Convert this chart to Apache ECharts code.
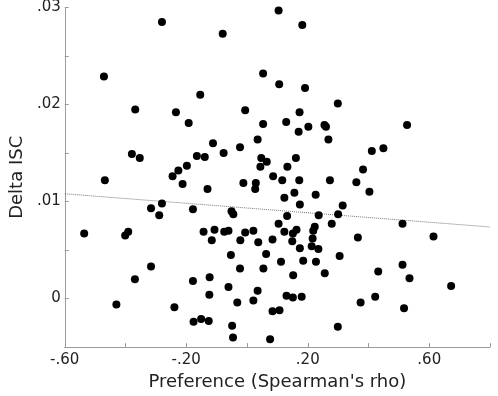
<!DOCTYPE html>
<html>
<head>
<meta charset="utf-8">
<script src="https://cdn.jsdelivr.net/npm/echarts@6/dist/echarts.min.js"></script>
<style>
  html, body { margin: 0; padding: 0; background: #fff; }
  #chart { width: 498px; height: 396px; }
</style>
</head>
<body>
<div id="chart"></div>
<script>
// preference (Spearman's rho) per subject
const prefRho = [
  -0.280, -0.471, -0.368, -0.379, -0.353, -0.468, -0.080, 0.053, -0.154, -0.234,
  -0.192, -0.006, 0.053, -0.112, 0.035, -0.077, -0.023, -0.165, -0.139, 0.047,
  0.065, 0.044, -0.198, -0.226, -0.245, 0.086, 0.104, 0.182, 0.106, 0.191,
  0.299, 0.173, 0.129, 0.170, 0.202, 0.255, 0.260, 0.268, 0.411, 0.449,
  0.161, 0.133, 0.382, 0.116, 0.172, 0.273, 0.360, 0.527, 0.029, 0.027,
  0.156, 0.226, 0.403,
  -0.280, -0.316, -0.289, -0.536, -0.391, -0.401, -0.316, -0.369, -0.430, -0.212,
  -0.130, -0.012, -0.178, -0.051, -0.045, -0.143, -0.107, -0.116, -0.075, -0.061,
  -0.022, -0.006, 0.021, 0.037, 0.084, -0.053, 0.063, -0.023, 0.054, -0.178,
  -0.123, -0.124, -0.061, 0.035, 0.021, -0.032, -0.239, 0.084, -0.176, -0.151,
  -0.126, -0.049, -0.046, 0.076,
  0.123, 0.174, 0.315, 0.132, 0.236, 0.300, 0.279, 0.104, 0.163, 0.223,
  0.218, 0.123, 0.151, 0.149, 0.216, 0.365, 0.174, 0.213, 0.235, 0.305,
  0.112, 0.185, 0.227, 0.432, 0.152, 0.256, 0.130, 0.151, 0.180, 0.422,
  0.374, 0.107, 0.299, 0.512, 0.614, 0.512, 0.535, 0.672, 0.517
];
// delta ISC per subject
const deltaISC = [
  0.0285, 0.0229, 0.0195, 0.0149, 0.0145, 0.0122, 0.0273, 0.0232, 0.0210, 0.0192,
  0.0181, 0.0194, 0.0180, 0.0160, 0.0164, 0.0150, 0.0156, 0.0147, 0.0146, 0.0145,
  0.0141, 0.0136, 0.0137, 0.0132, 0.0126, 0.0126, 0.0297, 0.0282, 0.0221, 0.0217,
  0.0201, 0.0192, 0.0182, 0.0172, 0.0177, 0.0179, 0.0177, 0.0164, 0.0152, 0.0155,
  0.0145, 0.0136, 0.0133, 0.0122, 0.0122, 0.0122, 0.0120, 0.0179, 0.0119, 0.0113,
  0.0109, 0.0107, 0.0110,
  0.0098, 0.0093, 0.0086, 0.0067, 0.0069, 0.0065, 0.0033, 0.0020, -0.0006, 0.0118,
  0.0113, 0.0119, 0.0092, 0.0090, 0.0087, 0.0069, 0.0071, 0.0060, 0.0069, 0.0070,
  0.0060, 0.0068, 0.0070, 0.0058, 0.0061, 0.0045, 0.0046, 0.0031, 0.0031, 0.0018,
  0.0022, 0.0004, 0.0012, 0.0008, -0.0002, -0.0004, -0.0009, -0.0013, -0.0024, -0.0021,
  -0.0023, -0.0028, -0.0040, -0.0042,
  0.0104, 0.0097, 0.0096, 0.0085, 0.0086, 0.0087, 0.0077, 0.0077, 0.0071, 0.0074,
  0.0070, 0.0069, 0.0067, 0.0059, 0.0062, 0.0063, 0.0052, 0.0054, 0.0051, 0.0044,
  0.0038, 0.0039, 0.0038, 0.0028, 0.0024, 0.0026, 0.0003, 0.0001, 0.0002, 0.0002,
  -0.0004, -0.0012, -0.0029, 0.0077, 0.0064, 0.0035, 0.0021, 0.0013, -0.0010
];
// least squares line, end points
const fitX = [-0.6, 0.8];
const fitY = [0.0108, 0.00738];

const xTickLabels = { "-0.6": "-.60", "-0.2": "-.20", "0.2": ".20", "0.6": ".60" };
const yTickLabels = { "0": "0", "0.01": ".01", "0.02": ".02", "0.03": ".03" };

const font = "DejaVu Sans";
const axisGray = "#9a9a9a";

const chart = echarts.init(document.getElementById("chart"));
chart.setOption({
  animation: false,
  grid: { left: 46, right: 8, top: 7, bottom: 38 },
  xAxis: {
    type: "value",
    min: -0.6,
    max: 0.8,
    interval: 0.2,
    name: "Preference (Spearman's rho)",
    nameLocation: "middle",
    nameGap: 20,
    nameTextStyle: { fontFamily: font, fontSize: 18, color: "#222" },
    axisLine: { onZero: false, lineStyle: { color: axisGray } },
    axisTick: { inside: true, length: 4, lineStyle: { color: axisGray } },
    splitLine: { show: false },
    axisLabel: {
      margin: 6,
      fontFamily: font,
      fontSize: 15,
      color: "#222",
      formatter: v => xTickLabels[String(Math.round(v * 10) / 10)] || ""
    }
  },
  yAxis: {
    type: "value",
    min: -0.005,
    max: 0.03,
    interval: 0.005,
    name: "Delta ISC",
    nameLocation: "middle",
    nameGap: 33,
    nameTextStyle: { fontFamily: font, fontSize: 18, color: "#222" },
    axisLine: { show: true, onZero: false, lineStyle: { color: axisGray } },
    axisTick: { show: true, inside: true, length: 4, lineStyle: { color: axisGray } },
    splitLine: { show: false },
    axisLabel: {
      margin: 4,
      fontFamily: font,
      fontSize: 15,
      color: "#222",
      formatter: v => yTickLabels[String(Math.round(v * 1000) / 1000)] || ""
    }
  },
  series: [
    {
      type: "line",
      data: fitX.map((x, i) => [x, fitY[i]]),
      symbol: "none",
      silent: true,
      lineStyle: { color: "#777", width: 1, type: [1, 1] },
      z: 1
    },
    {
      type: "scatter",
      data: prefRho.map((x, i) => [x, deltaISC[i]]),
      symbolSize: 8,
      itemStyle: { color: "#000", opacity: 1 },
      z: 2
    }
  ]
});
</script>
</body>
</html>
